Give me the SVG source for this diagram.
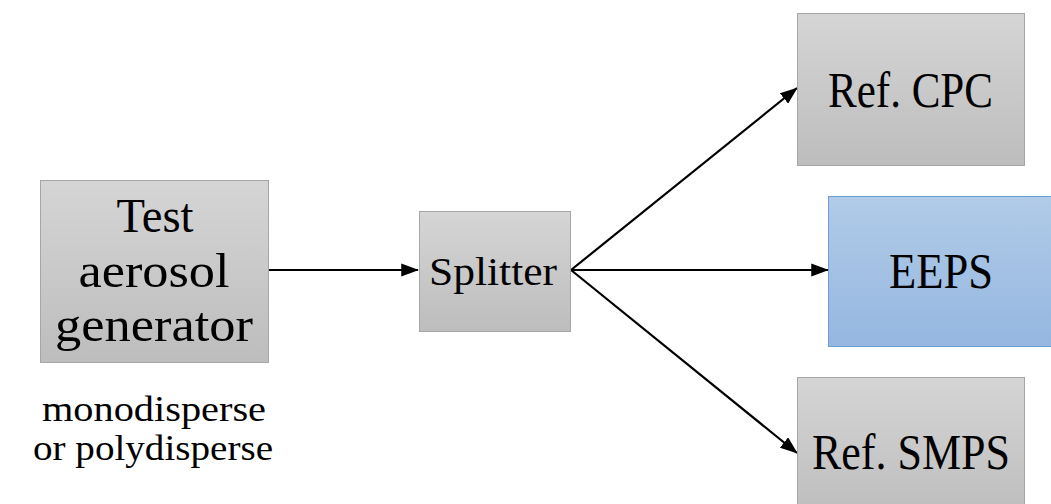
<svg xmlns="http://www.w3.org/2000/svg" width="1051" height="504" viewBox="0 0 1051 504">
<style>
.t{font-family:"Liberation Serif","DejaVu Serif",serif;fill:#000;text-anchor:middle}
.gray{fill:url(#g);stroke:#a6a6a6;stroke-width:1}
.blue{fill:url(#b);stroke:#6d9ed6;stroke-width:1}
.c{stroke:#000;stroke-width:2.2;fill:none;marker-end:url(#ah)}
</style>
<defs>
<linearGradient id="g" x1="0" y1="0" x2="0" y2="1"><stop offset="0" stop-color="#d5d5d5"/><stop offset="1" stop-color="#bdbdbd"/></linearGradient>
<linearGradient id="b" x1="0" y1="0" x2="0" y2="1"><stop offset="0" stop-color="#b1cbe8"/><stop offset="1" stop-color="#95b7e0"/></linearGradient>
<marker id="ah" markerWidth="8" markerHeight="6" refX="7.6" refY="3" orient="auto" markerUnits="strokeWidth"><path d="M0,0 L8,3 L0,6 Z" fill="#000"/></marker>
</defs>
<rect width="1051" height="504" fill="#fff"/>
<g id="connectors">
<line class="c" x1="269" y1="270" x2="418" y2="270"/>
<line class="c" x1="571" y1="270" x2="797" y2="88"/>
<line class="c" x1="571" y1="270" x2="828" y2="270"/>
<line class="c" x1="571" y1="270" x2="797" y2="453"/>
</g>
<g id="generator">
<rect class="gray" x="40.5" y="180.5" width="228" height="182"/>
<text class="t" x="155" y="232" font-size="49" textLength="77" lengthAdjust="spacingAndGlyphs">Test</text>
<text class="t" x="154" y="287" font-size="49" textLength="151" lengthAdjust="spacingAndGlyphs">aerosol</text>
<text class="t" x="154" y="341" font-size="49" textLength="198" lengthAdjust="spacingAndGlyphs">generator</text>
</g>
<g id="note">
<text class="t" x="154" y="421" font-size="35" textLength="224" lengthAdjust="spacingAndGlyphs">monodisperse</text>
<text class="t" x="153" y="460" font-size="35" textLength="240" lengthAdjust="spacingAndGlyphs">or polydisperse</text>
</g>
<g id="splitter">
<rect class="gray" x="419.5" y="211.5" width="151" height="120"/>
<text class="t" x="493" y="285" font-size="40" textLength="128" lengthAdjust="spacingAndGlyphs">Splitter</text>
</g>
<g id="cpc">
<rect class="gray" x="797.5" y="13.5" width="227" height="152"/>
<text class="t" x="910.5" y="107" font-size="50" textLength="165" lengthAdjust="spacingAndGlyphs">Ref. CPC</text>
</g>
<g id="eeps">
<rect class="blue" x="828.5" y="196.5" width="240" height="150"/>
<text class="t" x="941" y="288" font-size="50" textLength="104" lengthAdjust="spacingAndGlyphs">EEPS</text>
</g>
<g id="smps">
<rect class="gray" x="797.5" y="377.5" width="227" height="140"/>
<text class="t" x="911" y="469" font-size="50" textLength="198" lengthAdjust="spacingAndGlyphs">Ref. SMPS</text>
</g>
</svg>
